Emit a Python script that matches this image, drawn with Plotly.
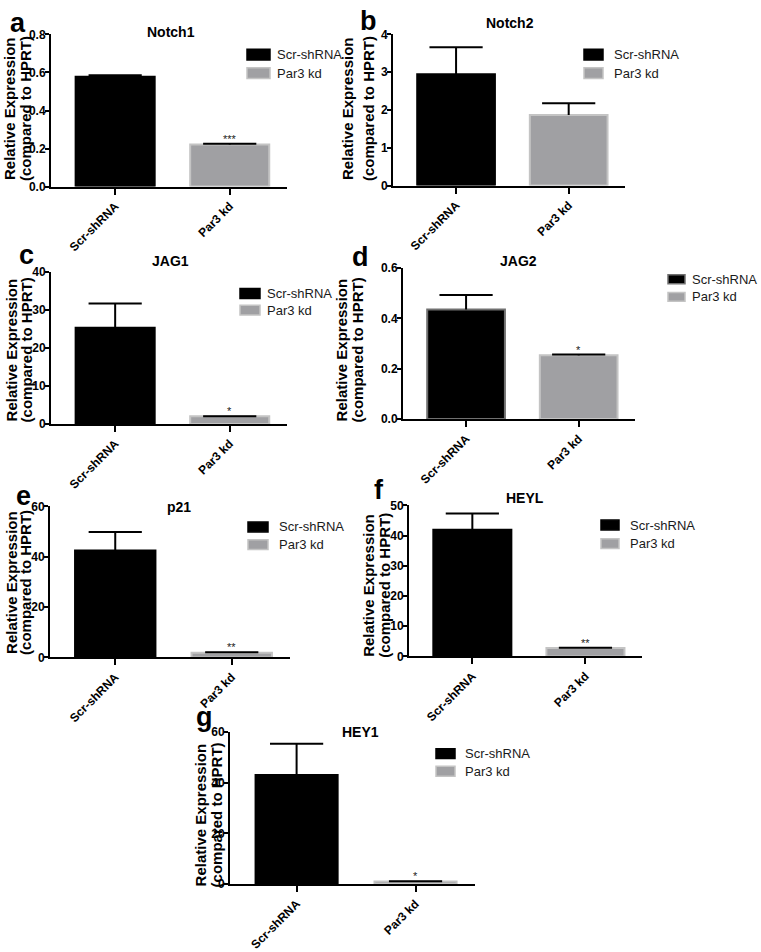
import plotly.graph_objects as go

# ---------------- data ----------------
GROUPS = ["Scr-shRNA", "Par3 kd"]
GENES = ["Notch1", "Notch2", "JAG1", "JAG2", "p21", "HEYL", "HEY1"]
LETTERS = ["a", "b", "c", "d", "e", "f", "g"]
SCR_MEAN = [0.577, 2.95, 25.3, 0.435, 42.5, 41.9, 43.0]
SCR_SEM = [0.009, 0.71, 6.4, 0.058, 7.3, 5.4, 12.4]
PAR3_MEAN = [0.221, 1.87, 2.0, 0.253, 1.9, 2.8, 1.0]
PAR3_SEM = [0.004, 0.31, 0.05, 0.003, 0.15, 0.1, 0.15]
SIGNIF = ["***", "", "*", "*", "**", "**", "*"]
Y_MAX = [0.8, 4, 40, 0.6, 60, 50, 60]
Y_DTICK = [0.2, 1, 10, 0.2, 20, 10, 20]
Y_TICKFMT = [".1f", "d", "d", ".1f", "d", "d", "d"]
Y_TITLE_LINES = ["Relative Expression", "(compared to HPRT)"]

# ---------------- layout geometry (pixels) ----------------
W, H = 761, 952
# axis left, axis right, y of top tick, y of zero
AXES_PX = [
    (51, 287, 28, 183),
    (393, 625, 28, 182),
    (51, 287, 270, 425),
    (403, 635, 266, 420),
    (50, 290, 509, 663),
    (409, 642, 508, 662),
    (230, 475, 739, 894),
]
TITLE_PX = [(171, 25), (510, 16), (170, 259), (518, 259), (179, 510), (525, 500), (360, 739)]
LETTER_PX = [(18, 16), (368, 14), (26, 253), (360, 255), (24, 498), (379, 492), (204, 724)]
YTITLE_PX = [(9, 25, 104), (347, 368, 104), (11, 26, 350), (341, 357, 350),
             (12, 26, 587), (369, 385, 590), (200, 216, 824)]
# legend: box x0, box x1, scr box top, par3 box top, box height, text x
LEGEND_PX = [
    (247, 270, 43, 62, 11, 275),
    (584, 603, 43, 62, 11, 612),
    (240, 260, 287, 304, 10, 265),
    (668, 685, 273, 291, 9, 690),
    (248, 268, 525, 543, 10, 277),
    (601, 619, 523, 542, 10, 628),
    (436, 455, 756, 774, 10, 463),
]

FONT = "Liberation Sans, Arial, sans-serif"
BLACK = "#000000"
GRAY = "#a0a0a3"
GRAY_EDGE = "#c4c4c4"


def fx(x):
    return x / W


def fy(y):
    return 1 - y / H


fig = go.Figure()
layout = dict(
    width=W, height=H,
    margin=dict(l=0, r=0, t=0, b=0),
    paper_bgcolor="white", plot_bgcolor="white",
    showlegend=False,
    font=dict(family=FONT, color="black"),
)
annotations = []
shapes = []

for i in range(len(GENES)):
    sfx = "" if i == 0 else str(i + 1)
    xref, yref = "x" + sfx, "y" + sfx
    x0, x1, ytop, ybot = AXES_PX[i]
    black_edge = "#707070" if i == 3 else BLACK

    means = [SCR_MEAN[i], PAR3_MEAN[i]]
    tops = [SCR_MEAN[i] + SCR_SEM[i], PAR3_MEAN[i] + PAR3_SEM[i]]

    fig.add_trace(go.Bar(
        x=GROUPS, y=means, width=0.69,
        marker=dict(color=[BLACK, GRAY], line=dict(color=[black_edge, GRAY_EDGE], width=2)),
        xaxis=xref, yaxis=yref, hoverinfo="x+y",
    ))
    # error bars (upper only)
    fig.add_trace(go.Scatter(
        x=[GROUPS[0], GROUPS[0], None, GROUPS[1], GROUPS[1]],
        y=[means[0], tops[0], None, means[1], tops[1]],
        mode="lines", line=dict(color=BLACK, width=2),
        xaxis=xref, yaxis=yref, hoverinfo="skip",
    ))
    fig.add_trace(go.Scatter(
        x=GROUPS, y=tops, mode="markers",
        marker=dict(symbol="line-ew", size=38, color=BLACK, line=dict(color=BLACK, width=2)),
        xaxis=xref, yaxis=yref, hoverinfo="skip",
    ))

    layout["xaxis" + sfx] = dict(
        domain=[fx(x0), fx(x1)], anchor=yref, type="category",
        range=[-0.56, 1.5], showline=True, linecolor="black", linewidth=2,
        ticks="outside", ticklen=6, tickwidth=2, tickcolor="black",
        tickangle=-45, showgrid=False, zeroline=False,
        tickfont=dict(family=FONT, size=12, color="black", weight="bold"),
    )
    layout["yaxis" + sfx] = dict(
        domain=[fy(ybot), fy(ytop)], anchor=xref,
        range=[0, Y_MAX[i]], dtick=Y_DTICK[i], tick0=0, tickformat=Y_TICKFMT[i],
        showline=True, linecolor="black", linewidth=2,
        ticks="outside", ticklen=4, tickwidth=2, tickcolor="black",
        ticklabelstandoff=-3,
        showgrid=False, zeroline=False,
        tickfont=dict(family=FONT, size=12, color="black", weight="bold"),
    )

    # title
    tx, ty = TITLE_PX[i]
    annotations.append(dict(
        text=GENES[i], x=fx(tx), y=fy(ty), xref="paper", yref="paper",
        xanchor="center", yanchor="middle", showarrow=False,
        font=dict(family=FONT, size=14, color="black", weight="bold"),
    ))
    # panel letter
    lx, ly = LETTER_PX[i]
    annotations.append(dict(
        text=LETTERS[i], x=fx(lx), y=fy(ly), xref="paper", yref="paper",
        xanchor="center", yanchor="middle", showarrow=False,
        font=dict(family=FONT, size=27, color="black", weight="bold"),
    ))
    # y-axis title lines
    l1x, l2x, tyc = YTITLE_PX[i]
    for line_text, lxp in zip(Y_TITLE_LINES, (l1x, l2x)):
        annotations.append(dict(
            text=line_text, x=fx(lxp), y=fy(tyc), xref="paper", yref="paper",
            xanchor="center", yanchor="middle", textangle=-90, showarrow=False,
            font=dict(family=FONT, size=15, color="black", weight="bold"),
        ))
    # significance
    if SIGNIF[i]:
        annotations.append(dict(
            text=SIGNIF[i], x=GROUPS[1], y=tops[1], xref=xref, yref=yref,
            xanchor="center", yanchor="bottom", yshift=-3, showarrow=False,
            font=dict(family=FONT, size=11, color="#222222"),
        ))
    # legend
    bx0, bx1, s_top, p_top, bh, txp = LEGEND_PX[i]
    for label, top, fill, edge in ((GROUPS[0], s_top, BLACK, black_edge),
                                    (GROUPS[1], p_top, GRAY, GRAY_EDGE)):
        shapes.append(dict(
            type="rect", xref="paper", yref="paper",
            x0=fx(bx0), x1=fx(bx1), y0=fy(top + bh), y1=fy(top),
            fillcolor=fill, line=dict(color=edge, width=1.5),
        ))
        annotations.append(dict(
            text=label, x=fx(txp), y=fy(top + bh / 2), xref="paper", yref="paper",
            xanchor="left", yanchor="middle", showarrow=False,
            font=dict(family=FONT, size=13, color="#1a1a1a"),
        ))

layout["annotations"] = annotations
layout["shapes"] = shapes
fig.update_layout(**layout)
fig.write_html(
    "out.html",
    config={"displayModeBar": False},
    post_script="document.body.style.margin='0px';",
)
